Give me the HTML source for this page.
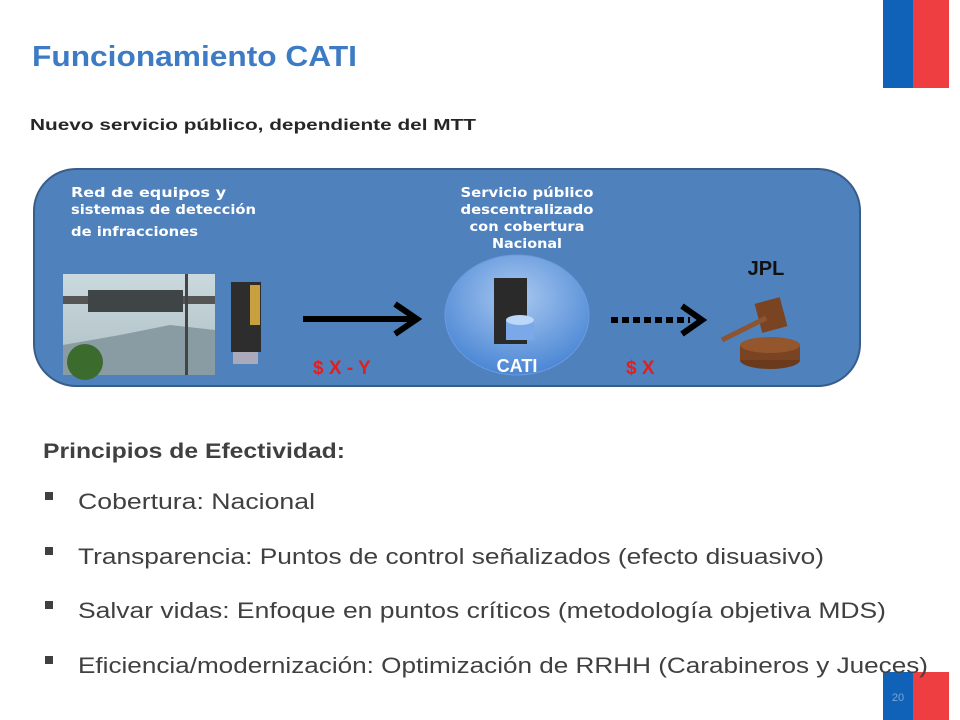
<!DOCTYPE html>
<html><head><meta charset="utf-8"><style>
html,body{margin:0;padding:0;background:#fff}
svg{display:block}
text{font-family:"Liberation Sans",sans-serif}
text.dv{font-family:"DejaVu Sans",sans-serif}
</style></head><body>
<svg width="960" height="720" xmlns="http://www.w3.org/2000/svg">
<rect x="883" y="0" width="30" height="88" fill="#0f62b8"/>
<rect x="913" y="0" width="36" height="88" fill="#ef3e42"/>
<rect x="883" y="672" width="30" height="48" fill="#0f62b8"/>
<rect x="913" y="672" width="36" height="48" fill="#ef3e42"/>
<text x="898" y="701" font-size="11" fill="#7aa6d8" text-anchor="middle">20</text>

<text x="32" y="66" font-size="29" font-weight="bold" fill="#3d7cc4" textLength="325" lengthAdjust="spacingAndGlyphs">Funcionamiento CATI</text>
<text x="30" y="130" font-size="16" font-weight="bold" fill="#262626" textLength="446" lengthAdjust="spacingAndGlyphs">Nuevo servicio público, dependiente del MTT</text>

<rect x="34" y="169" width="826" height="217" rx="42" fill="#4f81bd" stroke="#385d8a" stroke-width="2"/>
<g font-weight="bold" fill="#fff" font-size="13">
<text class="dv" x="71" y="197" textLength="155" lengthAdjust="spacingAndGlyphs">Red de equipos y</text>
<text class="dv" x="71" y="214" textLength="185" lengthAdjust="spacingAndGlyphs">sistemas de detección</text>
<text class="dv" x="71" y="236" textLength="127" lengthAdjust="spacingAndGlyphs">de infracciones</text>
<g text-anchor="middle">
<text class="dv" x="527" y="197" textLength="133" lengthAdjust="spacingAndGlyphs">Servicio público</text>
<text class="dv" x="527" y="214" textLength="133" lengthAdjust="spacingAndGlyphs">descentralizado</text>
<text class="dv" x="527" y="231" textLength="115" lengthAdjust="spacingAndGlyphs">con cobertura</text>
<text class="dv" x="527" y="248" textLength="70" lengthAdjust="spacingAndGlyphs">Nacional</text>
</g></g>

<defs>
<linearGradient id="sky" x1="0" y1="0" x2="0" y2="1"><stop offset="0" stop-color="#c9d9de"/><stop offset="1" stop-color="#aebfc4"/></linearGradient>
<radialGradient id="ball" cx="0.5" cy="0.35" r="0.65"><stop offset="0" stop-color="#a9c8f0"/><stop offset="1" stop-color="#4a86d4"/></radialGradient>
</defs>
<rect x="63" y="274" width="152" height="101" fill="url(#sky)"/>
<path d="M63 345 L120 335 L170 325 L215 330 L215 375 L63 375Z" fill="#8a9ca3"/>
<rect x="63" y="296" width="152" height="8" fill="#555"/>
<rect x="88" y="290" width="95" height="22" fill="#3f4546"/>
<rect x="185" y="274" width="3" height="101" fill="#444"/>
<circle cx="85" cy="362" r="18" fill="#3c6b2e"/>
<rect x="231" y="282" width="30" height="70" fill="#2d2d2d"/>
<rect x="250" y="285" width="10" height="40" fill="#c8a040"/>
<rect x="233" y="352" width="25" height="12" fill="#aab"/>

<line x1="303" y1="319" x2="412" y2="319" stroke="#000" stroke-width="6"/>
<polyline points="395,304 417,319 395,334" fill="none" stroke="#000" stroke-width="6"/>
<text x="313" y="374" font-size="19" font-weight="bold" fill="#e02020">$ X - Y</text>

<ellipse cx="517" cy="315" rx="72" ry="60" fill="url(#ball)" stroke="#6a9be0" stroke-width="1"/>
<rect x="494" y="278" width="33" height="66" fill="#2a2a2a"/>
<rect x="506" y="320" width="28" height="20" fill="#7aa8e8"/>
<ellipse cx="520" cy="320" rx="14" ry="5" fill="#bcd7f7"/>
<text x="517" y="372" font-size="18" font-weight="bold" fill="#fff" text-anchor="middle">CATI</text>

<line x1="611" y1="320" x2="690" y2="320" stroke="#000" stroke-width="6" stroke-dasharray="7,4"/>
<polyline points="682,306 702,320 682,334" fill="none" stroke="#000" stroke-width="6"/>
<text x="626" y="374" font-size="19" font-weight="bold" fill="#e02020">$ X</text>

<text x="766" y="275" font-size="20" font-weight="bold" fill="#111" text-anchor="middle">JPL</text>
<ellipse cx="770" cy="360" rx="30" ry="9" fill="#6b3a1c"/>
<rect x="740" y="345" width="60" height="15" fill="#7a4422"/>
<ellipse cx="770" cy="345" rx="30" ry="8" fill="#94562c"/>
<rect x="758" y="300" width="26" height="30" fill="#7a4422" transform="rotate(-15 771 315)"/>
<line x1="722" y1="340" x2="766" y2="318" stroke="#8a5530" stroke-width="5"/>

<g fill="#404040">
<text x="43" y="458" font-size="21" font-weight="bold" textLength="302" lengthAdjust="spacingAndGlyphs">Principios de Efectividad:</text>
<rect x="45" y="492" width="8" height="8"/>
<rect x="45" y="547" width="8" height="8"/>
<rect x="45" y="601" width="8" height="8"/>
<rect x="45" y="656" width="8" height="8"/>
<g font-size="22">
<text x="78" y="509" textLength="237" lengthAdjust="spacingAndGlyphs">Cobertura: Nacional</text>
<text x="78" y="564" textLength="746" lengthAdjust="spacingAndGlyphs">Transparencia: Puntos de control señalizados (efecto disuasivo)</text>
<text x="78" y="618" textLength="808" lengthAdjust="spacingAndGlyphs">Salvar vidas: Enfoque en puntos críticos (metodología objetiva MDS)</text>
<text x="78" y="673" textLength="850" lengthAdjust="spacingAndGlyphs">Eficiencia/modernización: Optimización de RRHH (Carabineros y Jueces)</text>
</g></g>
</svg>
</body></html>
